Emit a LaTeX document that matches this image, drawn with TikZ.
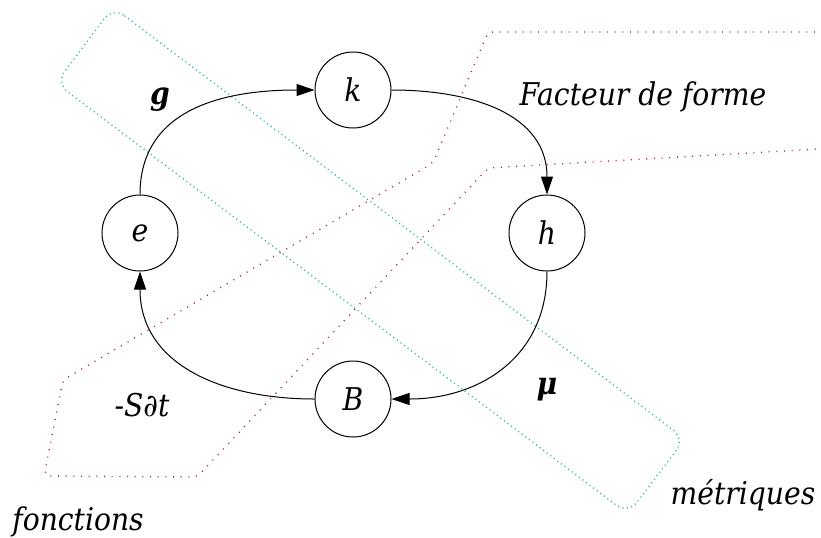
\documentclass[tikz,border=0pt]{standalone}
\usepackage{fontspec}
\setmainfont{DejaVu Serif Condensed}
\usetikzlibrary{arrows.meta}
\definecolor{zoneR}{RGB}{178,34,34}
\definecolor{zoneC}{RGB}{32,178,170}

\begin{document}
\begin{tikzpicture}[x=0.75pt,y=-0.75pt,>={Triangle[length=13.5pt,width=9pt]},
  state/.style={draw,circle,minimum size=57pt,inner sep=0pt,line width=0.75pt,font=\fontsize{23.5}{27}\selectfont\itshape},
  lbl/.style={inner sep=0pt,font=\fontsize{23.5}{27}\selectfont\itshape},
  blbl/.style={inner sep=0pt,font=\fontsize{23.5}{27}\selectfont\bfseries\itshape},
  flow/.style={->,line width=0.75pt},
  zone/.style={line width=1pt,dash pattern=on 0.75pt off 5pt}]
\useasboundingbox (0,0) rectangle (821,537);
% ---------- zones ----------
\draw[zone,zoneC,dash pattern=on 0.75pt off 2.6pt,rounded corners=11pt]
  (113,7) -- (685,439) -- (628,514) -- (56,83) -- cycle;
\draw[zone,zoneR,rounded corners=4pt]
  (815,32) -- (488,32) -- (433,163) -- (63,380) -- (44,476) -- (197,477) -- (488,168) -- (818,149);
% ---------- states ----------
\node[state] (k) at (353,90) {k};
\node[state] (e) at (140,233) {e};
\node[state] (h) at (547,233) {h};
\node[state] (B) at (353,399) {B};
% ---------- cycle ----------
\draw[flow] (e.north) to[out=90,in=180,looseness=1.1] (k.west);
\draw[flow] (k.east) to[out=0,in=90,looseness=1.1] (h.north);
\draw[flow] (h.south) to[out=-90,in=0,looseness=1.1] (B.east);
\draw[flow] (B.west) to[out=180,in=-90,looseness=1.1] (e.south);
% ---------- labels ----------
\node[blbl] (g) at (160,100) {g};
\node[blbl] (mu) at (547,390) {μ};
\node[lbl] (fdf) at (643,97) {Facteur de forme};
\node[lbl] (sdt) at (142,405) {-S∂t};
\node[lbl] (fct) at (78,522) {fonctions};
\node[lbl] (met) at (743,495) {métriques};
\end{tikzpicture}
\end{document}
